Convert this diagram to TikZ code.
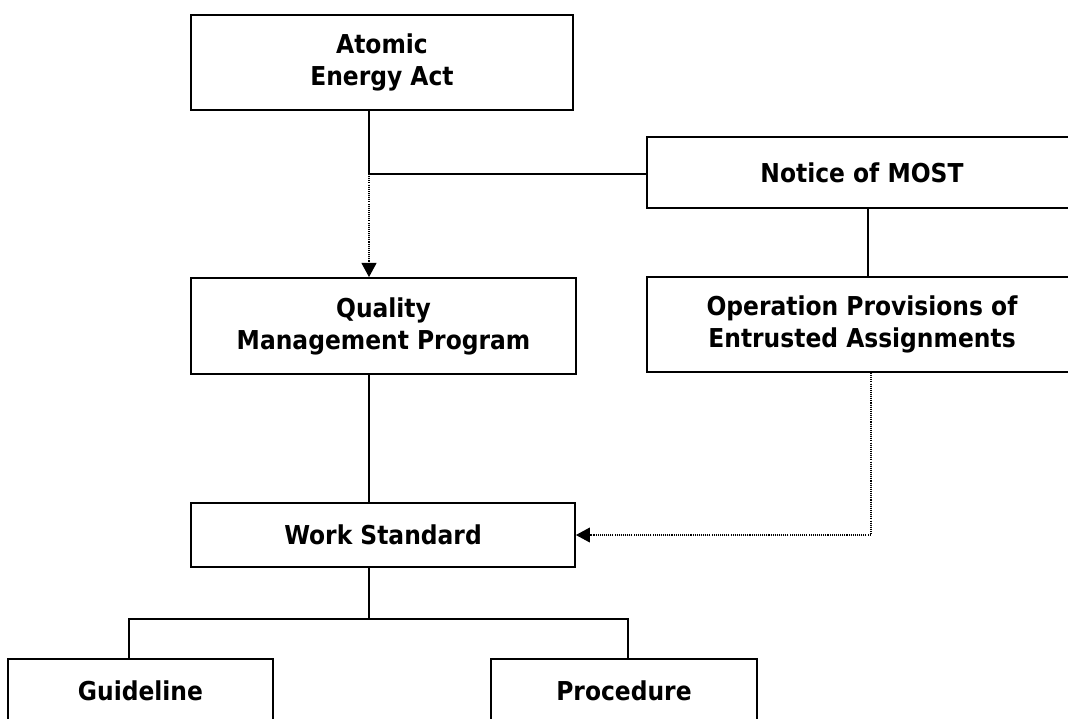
\documentclass[tikz,border=0pt]{standalone}
\usepackage{fontspec}
\setmainfont{DejaVu Sans Condensed}
\usetikzlibrary{arrows.meta}
\tikzset{
  bx/.style={draw, line width=1.1pt, align=center, inner sep=0pt, font=\fontsize{14.8}{18.2}\selectfont\bfseries},
  lk/.style={line width=1.1pt},
  dt/.style={line width=0.6pt, dash pattern=on 0.6pt off 0.6pt, -{Triangle[length=8pt, width=8.5pt]}},
}

\begin{document}
\begin{tikzpicture}[x=0.02cm, y=-0.02cm]
  \useasboundingbox (0,0) rectangle (1068,718);
  % boxes
  \node[bx, minimum width=7.64cm, minimum height=1.9cm] (act) at (382,62.5) {Atomic\\Energy Act};
  \node[bx, minimum width=8.6cm, minimum height=1.42cm] (notice) at (862,172.5) {Notice of MOST};
  \node[bx, minimum width=7.7cm, minimum height=1.92cm] (qmp) at (383.5,326) {Quality\\Management Program};
  \node[bx, minimum width=8.6cm, minimum height=1.9cm] (ops) at (862,324.5) {Operation Provisions of\\Entrusted Assignments};
  \node[bx, minimum width=7.68cm, minimum height=1.28cm] (work) at (383,535) {Work Standard};
  \node[bx, minimum width=5.3cm, minimum height=1.28cm] (guide) at (140.5,691) {Guideline};
  \node[bx, minimum width=5.32cm, minimum height=1.28cm] (proc) at (624,691) {Procedure};
  % where the lines run
  \coordinate (trunk) at (369,0);
  \coordinate (jn) at (369,174);
  \coordinate (rcol) at (868,0);
  \coordinate (dcol) at (871,0);
  \coordinate (gdrop) at (129,619);
  \coordinate (pdrop) at (628,619);
  % links
  \draw[lk] (act.south -| trunk) -- (jn) -- (jn -| notice.west);
  \draw[dt] (jn) -- (qmp.north -| trunk);
  \draw[lk] (notice.south -| rcol) -- (ops.north -| rcol);
  \draw[lk] (qmp.south -| trunk) -- (work.north -| trunk);
  \draw[dt] (ops.south -| dcol) |- (work.east);
  \draw[lk] (work.south -| trunk) -- (gdrop -| trunk);
  \draw[lk] (gdrop |- guide.north) -- (gdrop) -- (pdrop) -- (pdrop |- proc.north);
\end{tikzpicture}
\end{document}
